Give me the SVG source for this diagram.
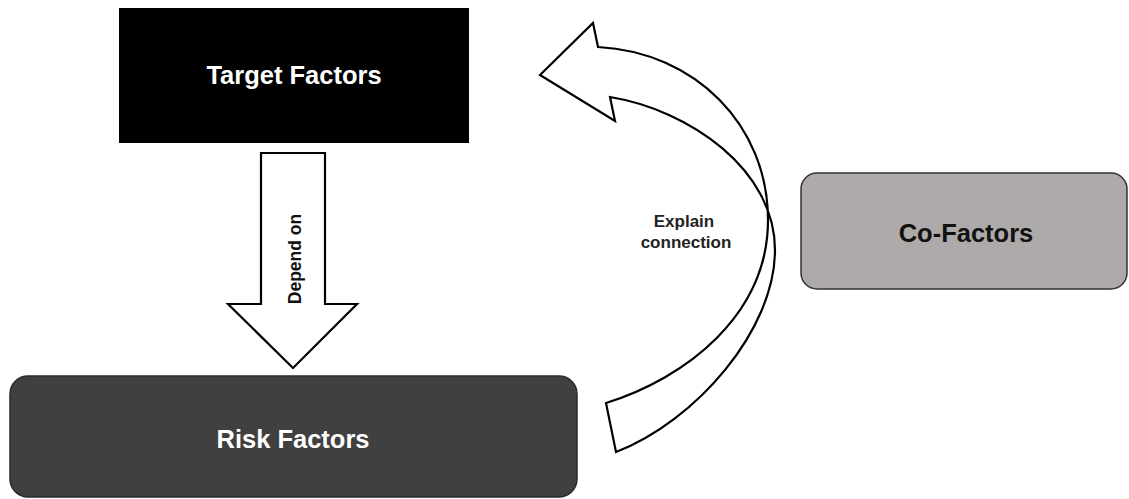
<svg xmlns="http://www.w3.org/2000/svg" width="1129" height="499" viewBox="0 0 1129 499">
<style>
.lbl{font-family:"Liberation Sans",Arial,sans-serif;font-weight:bold;text-anchor:middle}
.big{font-size:25.5px}
.small{font-size:17px}
.arrow{fill:#ffffff;stroke:#000000;stroke-width:2.2;stroke-linejoin:miter}
</style>
<rect width="1129" height="499" fill="#ffffff"/>
<g id="target-factors">
<rect x="119" y="8" width="350" height="135" fill="#000000"/>
<text class="lbl big" x="294" y="84" fill="#ffffff">Target Factors</text>
</g>
<g id="risk-factors">
<rect x="10" y="376" width="567" height="121" rx="18" ry="18" fill="#404040" stroke="#2a2a2a" stroke-width="1.5"/>
<text class="lbl big" x="293" y="448" fill="#ffffff">Risk Factors</text>
</g>
<g id="co-factors">
<rect x="801" y="173" width="326" height="116" rx="16" ry="16" fill="#adaaa9" stroke="#333333" stroke-width="1.5"/>
<text class="lbl big" x="966" y="242" fill="#111111">Co-Factors</text>
</g>
<g id="connectors">
<g id="depend-on">
<polygon class="arrow" points="261,153 325,153 325,304 357,304 293,368 228,304 261,304"/>
<text class="lbl small" transform="translate(301,259) rotate(-90)" fill="#111111" style="font-size:17.5px">Depend on</text>
</g>
<g id="explain-connection">
<path class="arrow" d="M598,47 C695,52 768,125 768,220 C768,315 686,378 606,403 L616,452 C696,421 775,330 775,250 C775,170 690,110 610,97 L615,121 L540,75 L593,23 Z"/>
<text class="lbl small" fill="#222222"><tspan x="684" y="227">Explain</tspan><tspan x="686" y="248">connection</tspan></text>
</g>
</g>
</svg>
